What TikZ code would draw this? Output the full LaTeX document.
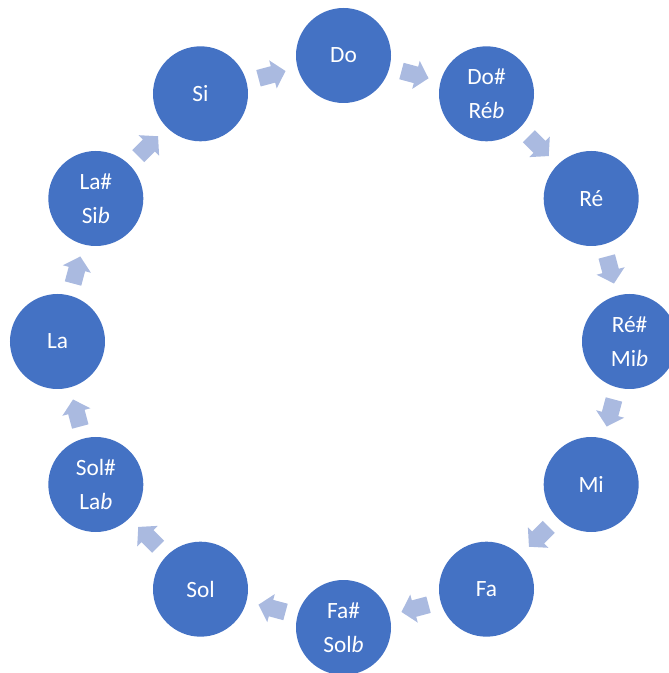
\documentclass[tikz,border=0pt]{standalone}
\usepackage{fontspec}
\setmainfont{Carlito}
\usepackage{tikz}
\usetikzlibrary{calc}
\definecolor{noteblue}{RGB}{68,114,196}
\definecolor{arrowblue}{RGB}{170,186,224}
\tikzset{
  note/.style={circle, fill=noteblue, draw=none, minimum size=71.25pt, inner sep=0pt,
    text=white, align=center, font=\fontsize{17.5}{25.5}\selectfont},
  blockarrow/.style={fill=arrowblue, draw=none}
}
% block arrow halfway between two notes, turned by #3
\def\cyclearrow(#1)(#2)(#3){\fill[blockarrow, shift={($(#1)!0.5!(#2)$)}, rotate=#3]
  (-14,-8.5) -- (1,-8.5) -- (1,-14.5) -- (14,0) -- (1,14.5) -- (1,8.5) -- (-14,8.5) -- cycle;}

\begin{document}
\begin{tikzpicture}[x=0.75pt, y=0.75pt]
			%%%%% START %%%%%
			\useasboundingbox (-343.5,-331.5) rectangle (324.5,341.5);
			
			\node[note] (do) at (90:286) {Do};
			\node[note] (dodiese) at (60:286) {Do\#\\Ré\textit{b}};
			\node[note] (re) at (30:286) {Ré};
			\node[note] (rediese) at (0:286) {Ré\#\\Mi\textit{b}};
			\node[note] (mi) at (-30:286) {Mi};
			\node[note] (fa) at (-60:286) {Fa};
			\node[note] (fadiese) at (-90:286) {Fa\#\\Sol\textit{b}};
			\node[note] (sol) at (-120:286) {Sol};
			\node[note] (soldiese) at (-150:286) {Sol\#\\La\textit{b}};
			\node[note] (la) at (180:286) {La};
			\node[note] (ladiese) at (150:286) {La\#\\Si\textit{b}};
			\node[note] (si) at (120:286) {Si};
			
			\cyclearrow(do)(dodiese)(-15)
			\cyclearrow(dodiese)(re)(-45)
			\cyclearrow(re)(rediese)(-75)
			\cyclearrow(rediese)(mi)(-105)
			\cyclearrow(mi)(fa)(-135)
			\cyclearrow(fa)(fadiese)(-165)
			\cyclearrow(fadiese)(sol)(165)
			\cyclearrow(sol)(soldiese)(135)
			\cyclearrow(soldiese)(la)(105)
			\cyclearrow(la)(ladiese)(75)
			\cyclearrow(ladiese)(si)(45)
			\cyclearrow(si)(do)(15)
			
			%%%%% END %%%%%
\end{tikzpicture}
\end{document}
